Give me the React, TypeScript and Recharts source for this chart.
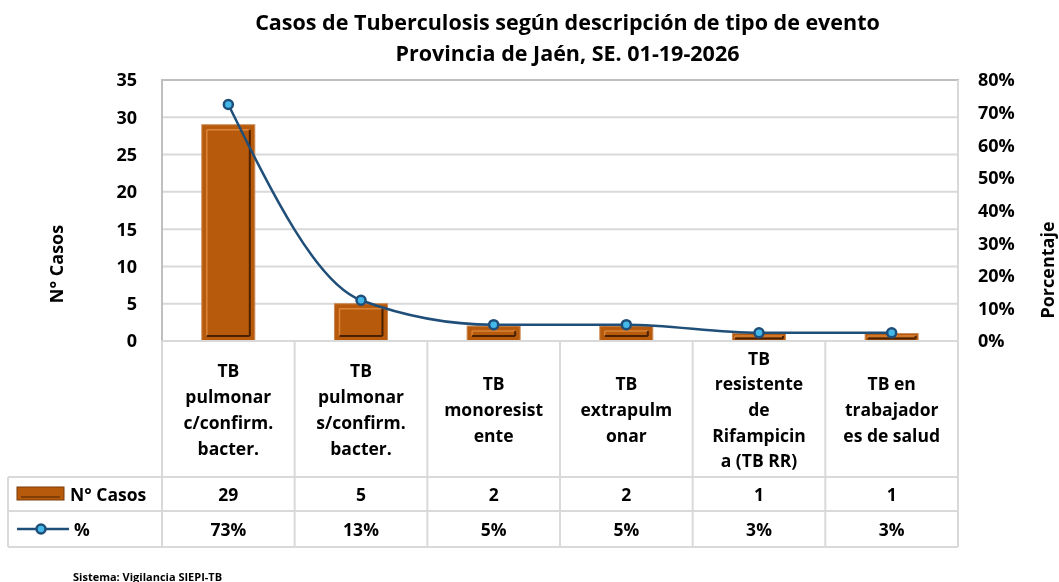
import React from 'react';
import { ComposedChart, Bar, Line, XAxis, YAxis, CartesianGrid, ReferenceArea } from 'recharts';

// Category labels, line by line as they wrap in the table
const categoryLines: string[][] = [
    ['TB', 'pulmonar', 'c/confirm.', 'bacter.'],
    ['TB', 'pulmonar', 's/confirm.', 'bacter.'],
    ['TB', 'monoresist', 'ente'],
    ['TB', 'extrapulm', 'onar'],
    ['TB', 'resistente', 'de', 'Rifampicin', 'a (TB RR)'],
    ['TB en', 'trabajador', 'es de salud'],
];
const casos = [29, 5, 2, 2, 1, 1];
const porcentaje = [72.5, 12.5, 5, 5, 2.5, 2.5];
const casosTicks = [0, 5, 10, 15, 20, 25, 30, 35];
const pctTicks = [0, 10, 20, 30, 40, 50, 60, 70, 80];

const categories = categoryLines.map((l) => l.join(' '));
const data = categories.map((name, i) => ({ name, casos: casos[i], pct: porcentaje[i] }));

const FONT = '"Open Sans", Lato, sans-serif';
const GRID = '#D9D9D9';
const BAR = '#B85A0C';
const LINE = '#1F4E79';
const DOT = '#45B8EA';

const W = 1059;
const H = 582;
const PLOT_L = 162;
const PLOT_R = 958;
const CELL_W = (PLOT_R - PLOT_L) / categories.length;

// bevelled bar like the Excel style
const BevelBar = (props: any) => {
    const { x, y, width, height } = props;
    if (!height || height <= 0) return null;
    const inset = Math.min(5, height / 3);
    const ix = x + inset, iy = y + inset, iw = width - inset * 2, ih = height - inset * 2;
    return (
        <g>
            <rect x={x} y={y} width={width} height={height} fill={BAR} stroke="#C98A55" strokeWidth={1} />
            {ih > 0 && (
                <g>
                    <line x1={ix} y1={iy} x2={ix + iw} y2={iy} stroke="#D9853A" strokeWidth={1.5} />
                    <line x1={ix} y1={iy} x2={ix} y2={iy + ih} stroke="#D9853A" strokeWidth={1.5} />
                    <line x1={ix + iw} y1={iy} x2={ix + iw} y2={iy + ih} stroke="#4A2203" strokeWidth={2} />
                    <line x1={ix} y1={iy + ih} x2={ix + iw} y2={iy + ih} stroke="#4A2203" strokeWidth={2} />
                </g>
            )}
        </g>
    );
};

const CategoryTick = (props: any) => {
    const { x, y, payload } = props;
    let i = categories.indexOf(payload.value);
    if (i < 0) i = payload.index ?? 0;
    const left = x - CELL_W / 2;
    const right = x + CELL_W / 2;
    const lines = categoryLines[i];
    const lh = 25.7;
    const start = y + 68 - ((lines.length - 1) * lh) / 2;
    const r1 = y + 136, r2 = y + 170, r3 = y + 206;
    const txt = { fontFamily: FONT, fontWeight: 700, fontSize: 17.5, fill: '#000' } as const;
    return (
        <g>
            <line x1={left} y1={y} x2={left} y2={r3} stroke={GRID} strokeWidth={2} />
            {i === categories.length - 1 && <line x1={right} y1={y - 261} x2={right} y2={r3} stroke={GRID} strokeWidth={2} />}
            <line x1={left} y1={r1} x2={right} y2={r1} stroke={GRID} strokeWidth={2} />
            <line x1={left} y1={r2} x2={right} y2={r2} stroke={GRID} strokeWidth={2} />
            <line x1={left} y1={r3} x2={right} y2={r3} stroke={GRID} strokeWidth={2} />
            {lines.map((t, k) => (
                <text key={k} x={x} y={start + k * lh} textAnchor="middle" dominantBaseline="central" {...txt}>{t}</text>
            ))}
            <text x={x} y={(r1 + r2) / 2} textAnchor="middle" dominantBaseline="central" {...txt}>{casos[i]}</text>
            <text x={x} y={(r2 + r3) / 2} textAnchor="middle" dominantBaseline="central" {...txt}>{Math.round(porcentaje[i])}%</text>
            {i === 0 && (
                <g>
                    <line x1={8} y1={r1} x2={left} y2={r1} stroke={GRID} strokeWidth={2} />
                    <line x1={8} y1={r2} x2={left} y2={r2} stroke={GRID} strokeWidth={2} />
                    <line x1={8} y1={r3} x2={left} y2={r3} stroke={GRID} strokeWidth={2} />
                    <line x1={8} y1={r1} x2={8} y2={r3} stroke={GRID} strokeWidth={2} />
                    <rect x={17} y={r1 + 10} width={47} height={13} fill={BAR} stroke="#7A3A06" strokeWidth={1} />
                    <line x1={21} y1={r1 + 20} x2={60} y2={r1 + 20} stroke="#4A2203" strokeWidth={1} />
                    <text x={70} y={(r1 + r2) / 2} dominantBaseline="central" {...txt}>N° Casos</text>
                    <line x1={17} y1={(r2 + r3) / 2} x2={69} y2={(r2 + r3) / 2} stroke={LINE} strokeWidth={2.5} />
                    <circle cx={41} cy={(r2 + r3) / 2} r={4.5} fill={DOT} stroke={LINE} strokeWidth={2.5} />
                    <text x={74} y={(r2 + r3) / 2} dominantBaseline="central" {...txt}>%</text>
                </g>
            )}
        </g>
    );
};

export default function App() {
    const tickStyle = { fontFamily: FONT, fontWeight: 700, fontSize: 18, fill: '#000' };
    return (
        <div style={{ position: 'fixed', left: 0, top: 0, width: W, height: H, background: '#fff', fontFamily: FONT }}>
            <div style={{ position: 'absolute', left: 0, width: W, top: 6, textAlign: 'center', fontWeight: 700, fontSize: 21.5, lineHeight: '31px', paddingLeft: 76, boxSizing: 'border-box' }}>
                <div>Casos de Tuberculosis según descripción de tipo de evento</div>
                <div>Provincia de Jaén, SE. 01-19-2026</div>
            </div>
            <div style={{ position: 'absolute', left: 73, top: 569, fontSize: 11, fontWeight: 700 }}>Sistema: Vigilancia SIEPI-TB</div>
            <ComposedChart
                width={W}
                height={H}
                data={data}
                margin={{ top: 80, right: 0, left: 0, bottom: 35 }}
                barCategoryGap="30%"
                style={{ position: 'absolute', left: 0, top: 0 }}
            >
                <CartesianGrid yAxisId="left" vertical={false} stroke={GRID} strokeWidth={2} />
                <ReferenceArea yAxisId="left" y1={0} y2={35} fill="none" stroke="#BFBFBF" strokeWidth={2} ifOverflow="visible" />
                <XAxis
                    dataKey="name"
                    interval={0}
                    height={206}
                    tickLine={false}
                    tickSize={0}
                    tickMargin={0}
                    axisLine={{ stroke: GRID, strokeWidth: 2 }}
                    tick={<CategoryTick />}
                />
                <YAxis
                    yAxisId="left"
                    orientation="left"
                    width={PLOT_L}
                    domain={[0, 35]}
                    ticks={casosTicks}
                    interval={0}
                    axisLine={false}
                    tickLine={false}
                    tickMargin={19}
                    tick={tickStyle}
                    label={() => (
                        <text x={56} y={264} transform="rotate(-90, 56, 264)" textAnchor="middle" dominantBaseline="central" style={tickStyle}>N° Casos</text>
                    )}
                />
                <YAxis
                    yAxisId="right"
                    orientation="right"
                    width={W - PLOT_R}
                    domain={[0, 80]}
                    ticks={pctTicks}
                    interval={0}
                    axisLine={false}
                    tickLine={false}
                    tickMargin={14}
                    tick={tickStyle}
                    tickFormatter={(v) => `${v}%`}
                    label={() => (
                        <text x={1047} y={270} transform="rotate(-90, 1047, 270)" textAnchor="middle" dominantBaseline="central" style={tickStyle}>Porcentaje</text>
                    )}
                />
                <Bar yAxisId="left" dataKey="casos" shape={<BevelBar />} isAnimationActive={false} />
                <Line
                    yAxisId="right"
                    type="monotone"
                    dataKey="pct"
                    stroke={LINE}
                    strokeWidth={2.5}
                    dot={{ r: 4.5, fill: DOT, stroke: LINE, strokeWidth: 2.5 }}
                    isAnimationActive={false}
                />
            </ComposedChart>
        </div>
    );
}
